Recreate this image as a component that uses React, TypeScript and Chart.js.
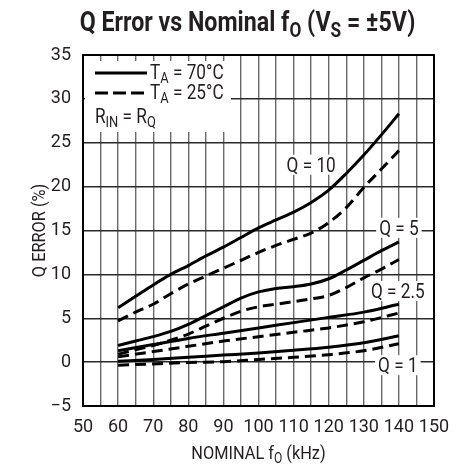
import React, { useEffect, useRef } from 'react';
import { Chart, registerables } from 'chart.js';

Chart.register(...registerables);

// ---- data ----
const freq5 = [60, 65, 70, 75, 80, 85, 90, 95, 100, 105, 110, 115, 120, 125, 130, 135, 140];
const freq10 = [60, 70, 80, 90, 100, 110, 120, 130, 140];

const q10Hot = [6.2, 7.5, 8.8, 10.0, 11.0, 12.1, 13.1, 14.2, 15.3, 16.2, 17.1, 18.2, 19.6, 21.5, 23.6, 25.9, 28.3];
const q10Room = [4.7, 5.7, 6.6, 7.8, 8.9, 9.8, 10.7, 11.6, 12.5, 13.3, 14.0, 14.7, 15.9, 17.6, 19.9, 22.0, 24.1];
const q5Hot = [1.9, 2.4, 2.9, 3.5, 4.3, 5.3, 6.3, 7.3, 8.0, 8.4, 8.6, 8.9, 9.5, 10.5, 11.6, 12.7, 13.7];
const q5Room = [0.9, 1.4, 1.9, 2.5, 3.2, 4.1, 5.0, 5.8, 6.3, 6.6, 6.9, 7.2, 7.6, 8.5, 9.6, 10.6, 11.7];
const q25Hot = [1.3, 2.0, 2.7, 3.3, 3.9, 4.5, 5.1, 5.7, 6.6];
const q25Room = [0.6, 1.2, 1.8, 2.4, 2.9, 3.4, 3.9, 4.6, 5.6];
const q1Hot = [0.1, 0.3, 0.55, 0.8, 1.05, 1.35, 1.7, 2.2, 3.0];
const q1Room = [-0.35, -0.2, -0.05, 0.05, 0.3, 0.55, 0.85, 1.3, 2.1];

const xMin = 50;
const xMax = 150;
const yMin = -5;
const yMax = 35;
const tickStep = 5;
const xLabelStep = 10;

const curveLabels = ['Q = 10', 'Q = 5', 'Q = 2.5', 'Q = 1'];

const FONT = "Roboto, 'Liberation Sans', sans-serif";
const INK = '#231f20';
const NARROW = 0.86;

type Part = { t: string; sub?: boolean };

function drawRich(
  ctx: CanvasRenderingContext2D,
  parts: Part[],
  x: number,
  y: number,
  size: number,
  bold: boolean,
  align: 'left' | 'center',
  hs: number = NARROW
) {
  const w = (p: Part) => {
    ctx.font = `${bold ? 'bold ' : ''}${p.sub ? Math.round(size * 0.75) : size}px ${FONT}`;
    return ctx.measureText(p.t).width;
  };
  const total = parts.reduce((s, p) => s + w(p), 0) * hs;
  const x0 = align === 'center' ? x - total / 2 : x;
  ctx.save();
  ctx.translate(x0, y);
  ctx.scale(hs, 1);
  ctx.textAlign = 'left';
  ctx.textBaseline = 'alphabetic';
  ctx.fillStyle = INK;
  let cx = 0;
  for (const p of parts) {
    const pw = w(p);
    ctx.fillText(p.t, cx, p.sub ? size * 0.22 : 0);
    cx += pw;
  }
  ctx.restore();
  return total;
}

const overlay = {
  id: 'overlay',
  beforeDatasetsDraw(chart: any) {
    const { ctx, chartArea: a } = chart;
    ctx.save();
    // legend white box
    ctx.fillStyle = '#fff';
    ctx.fillRect(a.left + 2, a.top + 6, 146, 71);
    // legend lines
    ctx.strokeStyle = '#000';
    ctx.lineWidth = 3;
    ctx.beginPath();
    ctx.moveTo(a.left + 12, a.top + 18);
    ctx.lineTo(a.left + 64, a.top + 18);
    ctx.stroke();
    ctx.setLineDash([13, 5]);
    ctx.beginPath();
    ctx.moveTo(a.left + 12, a.top + 38);
    ctx.lineTo(a.left + 64, a.top + 38);
    ctx.stroke();
    ctx.setLineDash([]);
    drawRich(ctx, [{ t: 'T' }, { t: 'A', sub: true }, { t: ' = 70°C' }], a.left + 67, a.top + 24, 20, false, 'left');
    drawRich(ctx, [{ t: 'T' }, { t: 'A', sub: true }, { t: ' = 25°C' }], a.left + 67, a.top + 44, 20, false, 'left');
    drawRich(ctx, [{ t: 'R' }, { t: 'IN', sub: true }, { t: ' = R' }, { t: 'Q', sub: true }], a.left + 12, a.top + 68, 20, false, 'left');
    ctx.restore();
  },
  afterDatasetsDraw(chart: any) {
    const { ctx, chartArea: a, scales } = chart;
    const xs = scales.x;
    const ys = scales.y;
    ctx.save();
    // frame
    ctx.strokeStyle = '#000';
    ctx.lineWidth = 2;
    ctx.strokeRect(a.left, a.top, a.right - a.left, a.bottom - a.top);
    // curve labels
    const anchors: [number, number][] = [[115, 22.5], [140, 15.3], [139.7, 8.1], [139.7, -0.35]];
    curveLabels.forEach((lab, i) => {
      const px = xs.getPixelForValue(anchors[i][0]);
      const py = ys.getPixelForValue(anchors[i][1]);
      ctx.font = `20px ${FONT}`;
      const tw = ctx.measureText(lab).width * NARROW;
      ctx.fillStyle = '#fff';
      ctx.fillRect(px - tw / 2 - 3, py - 10, tw + 6, 20);
      drawRich(ctx, [{ t: lab }], px, py + 7, 20, false, 'center');
    });
    ctx.restore();
  },
  afterDraw(chart: any) {
    const { ctx, chartArea: a } = chart;
    ctx.save();
    drawRich(
      ctx,
      [{ t: 'Q Error vs Nominal f' }, { t: 'O', sub: true }, { t: ' (V' }, { t: 'S', sub: true }, { t: ' = ±5V)' }],
      (a.left + a.right) / 2 - 11,
      31,
      27,
      true,
      'center',
      0.86
    );
    drawRich(ctx, [{ t: 'NOMINAL f' }, { t: 'O', sub: true }, { t: ' (kHz)' }], (a.left + a.right) / 2, 459, 19, false, 'center');
    ctx.translate(45, (a.top + a.bottom) / 2);
    ctx.rotate(-Math.PI / 2);
    drawRich(ctx, [{ t: 'Q ERROR (%)' }], 0, 0, 19, false, 'center');
    ctx.restore();
  },
};

function series(xv: number[], yv: number[], dashed: boolean) {
  return {
    data: xv.map((x, i) => ({ x, y: yv[i] })),
    borderColor: '#000',
    borderWidth: 3,
    borderDash: dashed ? [11, 6] : [],
    pointRadius: 0,
    fill: false,
    cubicInterpolationMode: 'monotone' as const,
  };
}

export default function App() {
  const ref = useRef<HTMLCanvasElement>(null);
  useEffect(() => {
    const chart = new Chart(ref.current!, {
      type: 'line',
      data: {
        datasets: [
          series(freq5, q10Hot, false),
          series(freq5, q10Room, true),
          series(freq5, q5Hot, false),
          series(freq5, q5Room, true),
          series(freq10, q25Hot, false),
          series(freq10, q25Room, true),
          series(freq10, q1Hot, false),
          series(freq10, q1Room, true),
        ],
      },
      options: {
        animation: false,
        responsive: true,
        maintainAspectRatio: false,
        layout: { padding: { top: 55, right: 30, left: 0, bottom: 0 } },
        plugins: { legend: { display: false }, tooltip: { enabled: false }, title: { display: false } },
        scales: {
          x: {
            type: 'linear',
            min: xMin,
            max: xMax,
            afterFit: (s: any) => {
              s.height = 60;
            },
            grid: { color: '#6a6a6a', lineWidth: 1.4, drawTicks: false },
            border: { display: false },
            ticks: {
              stepSize: tickStep,
              autoSkip: false,
              maxRotation: 0,
              padding: 11,
              color: INK,
              font: { family: FONT, size: 18 },
              callback: (v: any) => (Number(v) % xLabelStep === 0 ? String(v) : ''),
            },
          },
          y: {
            min: yMin,
            max: yMax,
            afterFit: (s: any) => {
              s.width = 83;
            },
            grid: { color: '#2a2a2a', lineWidth: 1.4, drawTicks: false },
            border: { display: false },
            ticks: {
              stepSize: tickStep,
              padding: 12,
              color: INK,
              font: { family: FONT, size: 18 },
              callback: (v: any) => (Number(v) < 0 ? '\u2212' + Math.abs(Number(v)) : String(v)),
            },
          },
        },
      },
      plugins: [overlay],
    });
    return () => chart.destroy();
  }, []);
  return (
    <div style={{ position: 'absolute', left: 0, top: 0, width: 464, height: 466, background: '#fff' }}>
      <canvas ref={ref} />
    </div>
  );
}
